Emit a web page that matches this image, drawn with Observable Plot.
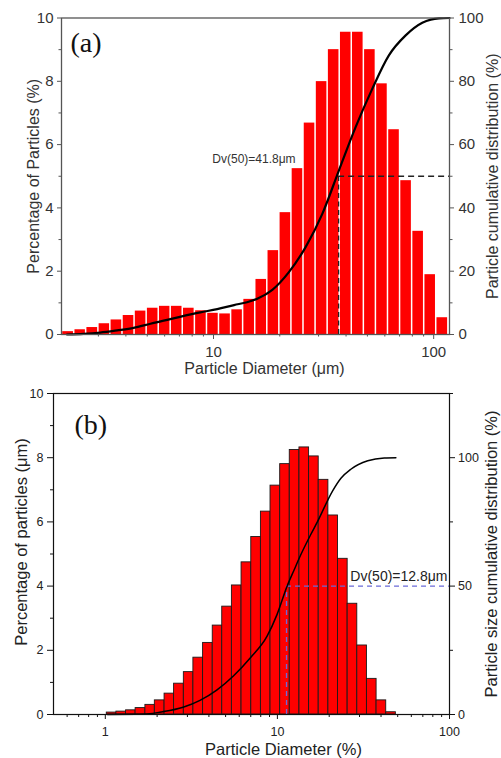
<!DOCTYPE html>
<html>
<head>
<meta charset="utf-8">
<script src="https://cdn.jsdelivr.net/npm/d3@7"></script>
<script src="https://cdn.jsdelivr.net/npm/@observablehq/plot@0.6"></script>
<style>
  html, body { margin: 0; padding: 0; background: #fff; }
  svg { display: block; }
</style>
</head>
<body>
<div id="chart"></div>
<script>
// ---------------- Panel (a) data ----------------
const binEdgesA = [2.05, 2.33, 2.64, 3.00, 3.40, 3.86, 4.38, 4.97, 5.64, 6.39, 7.25, 8.23, 9.34, 10.59, 12.02, 13.63, 15.47, 17.55, 19.91, 22.59, 25.63, 29.08, 32.99, 37.43, 42.46, 48.18, 54.66, 62.01, 70.36, 79.82, 90.56, 102.7, 116.6];
const percentA = [0.09, 0.15, 0.22, 0.34, 0.46, 0.60, 0.74, 0.83, 0.89, 0.89, 0.83, 0.75, 0.67, 0.65, 0.78, 1.11, 1.74, 2.65, 3.85, 5.24, 6.68, 7.99, 9.00, 9.55, 9.55, 9.00, 7.92, 6.47, 4.86, 3.26, 1.89, 0.53];
const cumDiamA = [2.16, 2.57, 3.06, 3.65, 4.34, 5.17, 6.16, 7.33, 8.73, 10.4, 12.4, 14.2, 15.8, 18.5, 22.0, 26.2, 31.2, 37.1, 44.2, 52.6, 62.6, 74.6, 88.8, 97, 105.7, 118];
const cumA = [0, 0.2, 0.6, 1.3, 2.1, 3.4, 4.6, 5.9, 7.0, 8.0, 9.3, 10.2, 11.3, 14.1, 19.7, 27.6, 38.1, 51.8, 65.5, 77.6, 88.2, 94.5, 98.5, 99.5, 99.9, 100];
const dv50A = 37;
const dv50LabelA = "Dv(50)=41.8μm";
const xDomainA = [2.04, 118];
const xTicksA = [10, 100];
const xMinorA = [3, 4, 5, 6, 7, 8, 9, 20, 30, 40, 50, 60, 70, 80, 90];
const yTicksA = [0, 2, 4, 6, 8, 10];
const yMinorA = [1, 3, 5, 7, 9];
const rightTicksA = [0, 20, 40, 60, 80, 100];
const rightMinorA = [10, 30, 50, 70, 90];
const titlesA = {x: "Particle Diameter (μm)", y: "Percentage of Particles (%)", r: "Particle cumulative distribution (%)", tag: "(a)"};

// ---------------- Panel (b) data ----------------
const binEdgesB = [1.02, 1.16, 1.32, 1.50, 1.71, 1.94, 2.21, 2.51, 2.86, 3.25, 3.70, 4.21, 4.78, 5.44, 6.19, 7.05, 8.02, 9.12, 10.38, 11.80, 13.43, 15.28, 17.38, 19.78, 22.50, 25.60, 29.12, 33.13, 37.70, 42.89, 48.80];
const percentB = [0.06, 0.09, 0.13, 0.20, 0.30, 0.44, 0.65, 0.96, 1.32, 1.77, 2.23, 2.77, 3.36, 4.02, 4.74, 5.53, 6.32, 7.13, 7.80, 8.24, 8.32, 8.04, 7.31, 6.20, 4.85, 3.45, 2.15, 1.11, 0.44, 0.07];
const cumDiamB = [1.03, 1.5, 1.81, 2.07, 2.83, 3.55, 4.44, 5.55, 6.95, 8.71, 9.96, 11.39, 12.45, 13.63, 15.6, 17.07, 20.9, 23.4, 26.7, 33.5, 41.8, 48.8];
const cumB = [0, 0.1, 0.3, 0.9, 2.8, 5.5, 9.5, 15, 22, 30.5, 39, 50, 56, 62, 70, 75, 87, 92, 95.5, 98.8, 99.9, 100];
const dv50B = 11.3;
const dv50LabelB = "Dv(50)=12.8μm";
const xDomainB = [0.5, 100];
const xTicksB = [1, 10, 100];
const xMinorB = [0.6, 0.7, 0.8, 0.9, 2, 3, 4, 5, 6, 7, 8, 9, 20, 30, 40, 50, 60, 70, 80, 90];
const yTicksB = [0, 2, 4, 6, 8, 10];
const yMinorB = [1, 3, 5, 7, 9];
const rightTicksB = [0, 50, 100];
const rightMinorB = [25, 75, 125];
const titlesB = {x: "Particle Diameter (%)", y: "Percentage of particles (μm)", r: "Particle size cumulative distribution (%)", tag: "(b)"};

const SANS = "'Liberation Sans', Arial, Helvetica, sans-serif";
const SERIF = "'Liberation Serif', 'Times New Roman', serif";

// ---------------- Panel (a) ----------------
const barsA = percentA.map((v, i) => ({x1: binEdgesA[i], x2: binEdgesA[i + 1], v}));
const lineA = cumDiamA.map((d, i) => ({d, c: cumA[i]}));
const kA = 10 / 100; // right axis (0–100 %) to left axis (0–10)
const axA = "#555", txA = "#333";

const plotA = Plot.plot({
  width: 501, height: 380,
  marginTop: 17.5, marginLeft: 61, marginRight: 52, marginBottom: 46,
  x: {type: "log", domain: xDomainA},
  y: {domain: [0, 10]},
  style: {fontFamily: SANS, background: "white", color: txA},
  marks: [
    Plot.rectY(barsA, {x1: "x1", x2: "x2", y: "v", fill: "#ff0000", insetLeft: 0.75, insetRight: 0.75}),
    Plot.ruleX([dv50A], {x: d => d, y1: 0, y2: 50 * kA, stroke: "#222", strokeWidth: 1.3, strokeDasharray: "5,3.5"}),
    Plot.ruleY([50 * kA], {y: d => d, x1: dv50A, x2: xDomainA[1], stroke: "#222", strokeWidth: 1.3, strokeDasharray: "6,4"}),
    Plot.line(lineA, {x: "d", y: d => d.c * kA, curve: "monotone-x", stroke: "#000", strokeWidth: 2.2}),
    Plot.frame({stroke: axA, strokeWidth: 1.3}),
    Plot.axisX(xTicksA, {anchor: "bottom", tickSize: 5, tickPadding: 7, fontSize: 15, color: txA, stroke: axA, label: null, tickFormat: d => String(d)}),
    Plot.axisX(xMinorA, {anchor: "bottom", tickSize: 2.5, color: axA, label: null, tickFormat: () => ""}),
    Plot.axisY(yTicksA, {anchor: "left", tickSize: 4, tickPadding: 4, fontSize: 15, color: txA, stroke: axA, label: null, tickFormat: d => String(d)}),
    Plot.axisY(yMinorA, {anchor: "left", tickSize: 2.5, color: axA, label: null, tickFormat: () => ""}),
    Plot.axisY(rightTicksA.map(v => v * kA), {anchor: "right", tickSize: 4, tickPadding: 5, fontSize: 15, color: txA, stroke: axA, label: null, tickFormat: d => String(Math.round(d / kA))}),
    Plot.axisY(rightMinorA.map(v => v * kA), {anchor: "right", tickSize: 2.5, color: axA, label: null, tickFormat: () => ""}),
    Plot.text([titlesA.tag], {text: d => d, frameAnchor: "top-left", textAnchor: "start", lineAnchor: "bottom", dx: 9, dy: 33.5, fontSize: 28, fontFamily: SERIF, fill: "#111"}),
    Plot.text([dv50A], {x: d => d, y: () => 50 * kA, text: () => dv50LabelA, textAnchor: "end", lineAnchor: "bottom", dx: -43, dy: -13, fontSize: 12, fill: "#333"}),
    Plot.text([titlesA.y], {text: d => d, frameAnchor: "left", textAnchor: "middle", lineAnchor: "middle", rotate: -90, dx: -28, fontSize: 16, fill: txA}),
    Plot.text([titlesA.r], {text: d => d, frameAnchor: "right", textAnchor: "middle", lineAnchor: "middle", rotate: -90, dx: 43, fontSize: 16, fill: txA}),
    Plot.text([titlesA.x], {text: d => d, frameAnchor: "bottom", textAnchor: "middle", lineAnchor: "middle", dx: 9, dy: 34, fontSize: 16, fill: txA})
  ]
});

// ---------------- Panel (b) ----------------
const barsB = percentB.map((v, i) => ({x1: binEdgesB[i], x2: binEdgesB[i + 1], v}));
const lineB = cumDiamB.map((d, i) => ({d, c: cumB[i]}));
const kB = 8 / 100; // right axis 100 % sits at left-axis value 8
const axB = "#111", txB = "#222";

const plotB = Plot.plot({
  width: 501, height: 378,
  marginTop: 13, marginLeft: 53, marginRight: 52, marginBottom: 44,
  x: {type: "log", domain: xDomainB},
  y: {domain: [0, 10]},
  style: {fontFamily: SANS, background: "white", color: txB},
  marks: [
    Plot.rectY(barsB, {x1: "x1", x2: "x2", y: "v", fill: "#ff0000", stroke: "#1a1a1a", strokeWidth: 0.9}),
    Plot.ruleX([dv50B], {x: d => d, y1: 0, y2: 50 * kB, stroke: "#6a6ad8", strokeWidth: 1.3, strokeDasharray: "5,4"}),
    Plot.ruleY([50 * kB], {y: d => d, x1: dv50B, x2: xDomainB[1], stroke: "#6a6ad8", strokeWidth: 1.3, strokeDasharray: "5,4"}),
    Plot.line(lineB, {x: "d", y: d => d.c * kB, curve: "monotone-x", stroke: "#000", strokeWidth: 1.5}),
    Plot.frame({stroke: axB, strokeWidth: 1.2}),
    Plot.axisX(xTicksB, {anchor: "bottom", tickSize: 5, tickPadding: 8, fontSize: 12.5, color: txB, stroke: axB, label: null, tickFormat: d => String(d)}),
    Plot.axisX(xMinorB, {anchor: "bottom", tickSize: 3, color: axB, label: null, tickFormat: () => ""}),
    Plot.axisY(yTicksB, {anchor: "left", tickSize: 6, tickPadding: 4, fontSize: 12.5, color: txB, stroke: axB, label: null, tickFormat: d => String(d)}),
    Plot.axisY(yMinorB, {anchor: "left", tickSize: 3, color: axB, label: null, tickFormat: () => ""}),
    Plot.axisY(rightTicksB.map(v => v * kB), {anchor: "right", tickSize: 5, tickPadding: 3.5, fontSize: 12.5, color: txB, stroke: axB, label: null, tickFormat: d => String(Math.round(d / kB))}),
    Plot.axisY(rightMinorB.map(v => v * kB), {anchor: "right", tickSize: 3, color: axB, label: null, tickFormat: () => ""}),
    Plot.text([titlesB.tag], {text: d => d, frameAnchor: "top-left", textAnchor: "start", lineAnchor: "bottom", dx: 21, dy: 40, fontSize: 28, fontFamily: SERIF, fill: "#111"}),
    Plot.text([50], {y: d => d * kB, frameAnchor: "right", text: () => dv50LabelB, textAnchor: "end", lineAnchor: "bottom", dx: -2, dy: -5.5, fontSize: 14, fill: "#222"}),
    Plot.text([titlesB.y], {text: d => d, frameAnchor: "left", textAnchor: "middle", lineAnchor: "middle", rotate: -90, dx: -32, dy: -12, fontSize: 16.5, fill: txB}),
    Plot.text([titlesB.r], {text: d => d, frameAnchor: "right", textAnchor: "middle", lineAnchor: "middle", rotate: -90, dx: 42.7, fontSize: 16.5, fill: txB}),
    Plot.text([titlesB.x], {text: d => d, frameAnchor: "bottom", textAnchor: "middle", lineAnchor: "middle", dx: 32, dy: 35.5, fontSize: 16.5, fill: txB})
  ]
});

const root = document.getElementById("chart");
root.appendChild(plotA);
root.appendChild(plotB);
</script>
</body>
</html>
